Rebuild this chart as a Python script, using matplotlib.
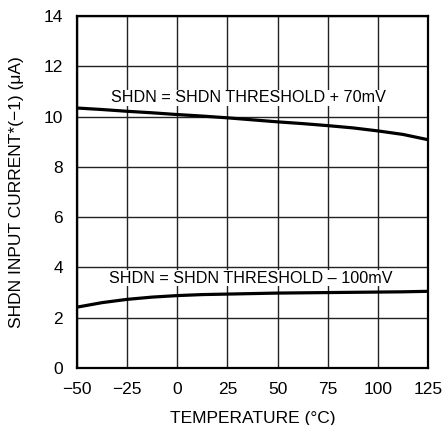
import matplotlib
matplotlib.use("Agg")
import matplotlib.pyplot as plt

# values
temp = [-50, -37.5, -25, -12.5, 0, 12.5, 25, 37.5, 50, 62.5, 75, 87.5, 100, 112.5, 125]
i_plus70 = [10.34, 10.28, 10.21, 10.15, 10.08, 10.02, 9.95, 9.87, 9.79, 9.72, 9.64, 9.55, 9.43, 9.29, 9.08]
i_minus100 = [2.42, 2.60, 2.73, 2.82, 2.88, 2.92, 2.94, 2.96, 2.98, 2.99, 3.00, 3.01, 3.02, 3.03, 3.05]
xticks = [-50, -25, 0, 25, 50, 75, 100, 125]
xticklabels = ["\u221250", "\u221225", "0", "25", "50", "75", "100", "125"]
yticks = [0, 2, 4, 6, 8, 10, 12, 14]

plt.rcParams["font.family"] = ["Liberation Sans", "DejaVu Sans"]
plt.rcParams["font.size"] = 12.5

fig = plt.figure(figsize=(4.46, 4.25), dpi=100)
ax = fig.add_axes([77 / 446, 1 - 368 / 425, 351 / 446, 352 / 425])

ax.plot(temp, i_plus70, color="black", linewidth=2.3, zorder=3)
ax.plot(temp, i_minus100, color="black", linewidth=2.3, zorder=3)

ax.text(35.3, 10.75, "SHDN = SHDN THRESHOLD + 70mV", ha="center", va="center", fontsize=11.6,
        bbox=dict(facecolor="white", edgecolor="none", pad=0.5), zorder=2)
ax.text(36.6, 3.57, "SHDN = SHDN THRESHOLD \u2013 100mV", ha="center", va="center", fontsize=11.6,
        bbox=dict(facecolor="white", edgecolor="none", pad=0.5), zorder=2)

ax.set_xlim(-50, 125)
ax.set_ylim(0, 14)
ax.set_xticks(xticks)
ax.set_xticklabels(xticklabels)
ax.set_yticks(yticks)
ax.grid(True, color="#222222", linewidth=1.0, zorder=1)
ax.set_axisbelow(True)
ax.tick_params(axis="x", length=0, pad=10)
ax.tick_params(axis="y", length=0, pad=10)
for s in ax.spines.values():
    s.set_linewidth(1.6)

ax.set_xlabel("TEMPERATURE (\u00b0C)", labelpad=10)
ax.set_ylabel("SHDN INPUT CURRENT*(\u22121) (\u03bcA)", labelpad=14)

fig.savefig("out.png", dpi=100)
